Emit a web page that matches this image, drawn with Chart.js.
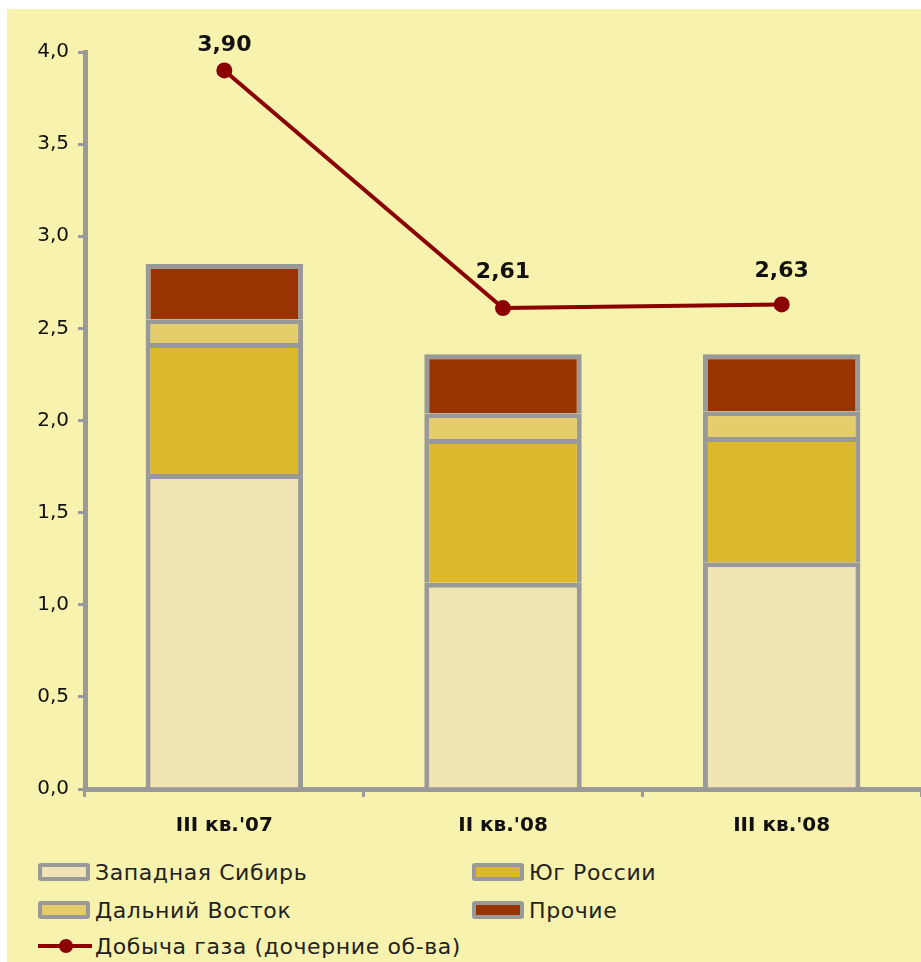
<!DOCTYPE html>
<html>
<head>
<meta charset="utf-8">
<script src="https://cdn.jsdelivr.net/npm/chart.js@4"></script>
<style>
  body { margin: 0; background: #fff; }
  #wrap { position: absolute; left: 7px; top: 9px; width: 914px; height: 953px; background: #f7f2ad; overflow: hidden; }
  #box { position: absolute; left: 0; top: 0; width: 924px; height: 840px; }
  #legend { position: absolute; left: 0; top: 836px; width: 914px; font-family: "DejaVu Sans", sans-serif; font-size: 22px; letter-spacing: 0.6px; color: #222; }
  .item { position: absolute; display: flex; align-items: center; height: 30px; }
  .sw { width: 44px; height: 10px; border: 4px solid #999; border-radius: 3px; margin-right: 5px; }
  .ln { position: relative; width: 54px; height: 4px; background: #8b0000; margin-right: 3px; }
  .ln::after { content: ''; position: absolute; left: 21px; top: -5px; width: 14px; height: 14px; border-radius: 50%; background: #8b0000; }
</style>
</head>
<body>
<div id="wrap">
  <div id="box"><canvas id="myChart"></canvas></div>
  <div id="legend"></div>
</div>
<script>
'use strict';

const labels = ["III кв.'07", "II кв.'08", "III кв.'08"];
const westSiberia = [1.71, 1.12, 1.23];
const southRussia = [0.71, 0.78, 0.68];
const farEast = [0.13, 0.14, 0.14];
const others = [0.30, 0.32, 0.31];
const gasOutput = [3.90, 2.61, 2.63];

const seriesNames = ['Западная Сибирь', 'Юг России', 'Дальний Восток', 'Прочие', 'Добыча газа (дочерние об-ва)'];
const barColors = ['#f0e4b4', '#dcb92a', '#e6cd6b', '#993300'];
const lineColor = '#8b0000';
// how far each value label sits above its point (px)
const labelLift = [25, 36, 33];

const comma = (v, d) => v.toFixed(d).replace('.', ',');

const barSet = (label, data, color) => ({
  type: 'bar',
  label: label,
  data: data,
  backgroundColor: color,
  borderColor: '#999999',
  borderWidth: { top: 5, left: 5, right: 5, bottom: 0 },
  borderSkipped: false,
  barPercentage: 0.565,
  categoryPercentage: 1,
  order: 2
});

// value labels above the line points
const pointLabels = {
  id: 'pointLabels',
  afterDatasetsDraw(chart) {
    const ctx = chart.ctx;
    const meta = chart.getDatasetMeta(4);
    ctx.save();
    ctx.font = 'bold 22px "DejaVu Sans", sans-serif';
    ctx.fillStyle = '#111';
    ctx.textAlign = 'center';
    ctx.textBaseline = 'middle';
    meta.data.forEach((pt, i) => {
      ctx.fillText(comma(gasOutput[i], 2), pt.x, pt.y - labelLift[i]);
    });
    ctx.restore();
  }
};

const ctx = document.getElementById('myChart');

new Chart(ctx, {
  data: {
    labels: labels,
    datasets: [
      barSet(seriesNames[0], westSiberia, barColors[0]),
      barSet(seriesNames[1], southRussia, barColors[1]),
      barSet(seriesNames[2], farEast, barColors[2]),
      barSet(seriesNames[3], others, barColors[3]),
      {
        type: 'line',
        label: seriesNames[4],
        data: gasOutput,
        borderColor: lineColor,
        backgroundColor: lineColor,
        borderWidth: 4,
        pointRadius: 6,
        pointBackgroundColor: lineColor,
        stack: 'line',
        order: 1
      }
    ]
  },
  options: {
    responsive: true,
    maintainAspectRatio: false,
    animation: false,
    layout: { padding: { top: 43, left: 0, right: 0, bottom: 0 } },
    scales: {
      x: {
        stacked: true,
        offset: true,
        border: { color: '#999999', width: 5 },
        grid: { display: true, offset: true, drawOnChartArea: false, drawTicks: true, tickLength: 8, color: '#999999', lineWidth: 3 },
        ticks: { color: '#111', padding: 17, font: { family: '"DejaVu Sans", sans-serif', size: 20, weight: 'bold' } },
        afterFit(scale) { scale.height = 60; }
      },
      y: {
        stacked: true,
        min: 0,
        max: 4,
        border: { color: '#999999', width: 5 },
        grid: { display: true, drawOnChartArea: false, drawTicks: true, tickLength: 7, color: '#999999', lineWidth: 3 },
        ticks: {
          stepSize: 0.5,
          color: '#111',
          padding: 9,
          font: { family: '"DejaVu Sans", sans-serif', size: 20 },
          callback: (v) => comma(v, 1)
        },
        afterFit(scale) { scale.width = 78; }
      }
    },
    plugins: {
      legend: { display: false },
      tooltip: { enabled: false }
    }
  },
  plugins: [pointLabels]
});

// legend in two columns
const legend = document.getElementById('legend');
const spots = [[31, 12], [465, 12], [31, 50], [465, 50], [31, 86]];
seriesNames.forEach((name, k) => {
  const it = document.createElement('div');
  it.className = 'item';
  it.style.left = spots[k][0] + 'px';
  it.style.top = spots[k][1] + 'px';
  const mark = document.createElement('span');
  if (k < 4) {
    mark.className = 'sw';
    mark.style.background = barColors[k];
  } else {
    mark.className = 'ln';
  }
  it.appendChild(mark);
  it.appendChild(document.createTextNode(name));
  legend.appendChild(it);
});
</script>
</body>
</html>
